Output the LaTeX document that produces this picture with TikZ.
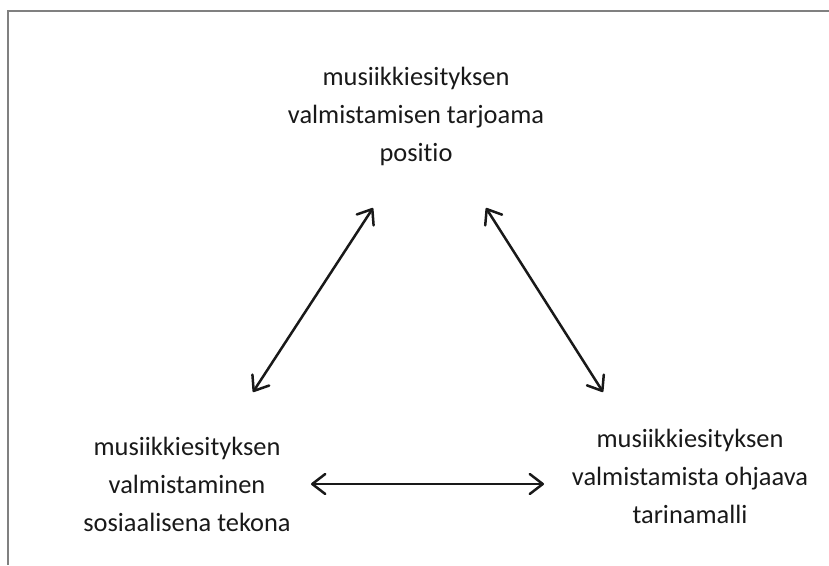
\documentclass[tikz,border=0pt]{standalone}
\usepackage{fontspec}
\setmainfont{Carlito}[Ligatures={NoCommon}]
\usetikzlibrary{arrows.meta}
\begin{document}
\begin{tikzpicture}[x=1pt,y=-1pt,
  lbl/.style={align=center,font=\fontsize{26.4}{38}\selectfont,inner sep=0pt,text=black!90},
  barb/.tip={Straight Barb[length=13pt,width=20pt,line cap=round,line join=round]},
  dbl/.style={barb-barb,line width=2.5pt,black!90},
  frame/.style={draw=black!50,line width=1.5pt}]
\useasboundingbox (0,0) rectangle (829,565);
\draw[frame] (829,11) -- (8,11) -- (8,565);
\node[lbl] (top) at (416,116) {musiikkiesityksen\\valmistamisen tarjoama\\positio};
\node[lbl] (left) at (187,484) {musiikkiesityksen\\valmistaminen\\sosiaalisena tekona};
\node[lbl] (right) at (690,476) {musiikkiesityksen\\valmistamista ohjaava\\tarinamalli};
\coordinate (a1) at (253,392);
\coordinate (a2) at (373,208);
\coordinate (b1) at (486,208);
\coordinate (b2) at (603,392);
\coordinate (c1) at (311,484);
\coordinate (c2) at (544,484);
\draw[dbl] (a1) -- (a2);
\draw[dbl] (b1) -- (b2);
\draw[dbl] (c1) -- (c2);
\end{tikzpicture}
\end{document}
